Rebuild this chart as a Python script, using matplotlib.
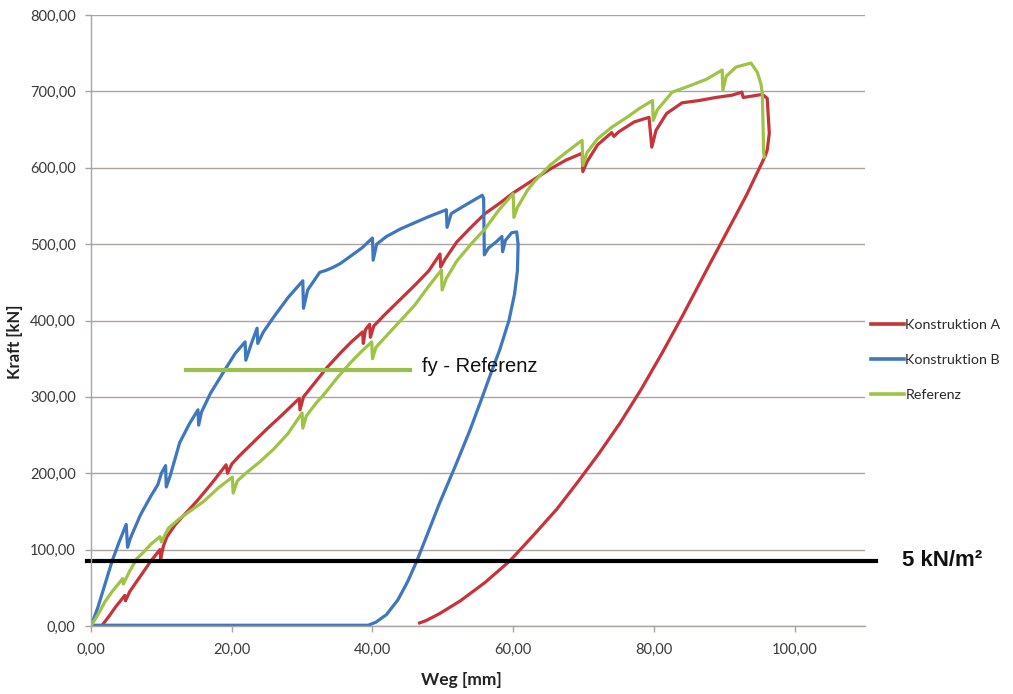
import matplotlib
matplotlib.use("Agg")
import matplotlib.pyplot as plt
from matplotlib.ticker import FuncFormatter, MultipleLocator

# Load-displacement curves (Weg in mm, Kraft in kN)
a_weg = [1.5, 2.5, 3.5, 4.8, 4.9, 5.5, 7.0, 8.5, 9.8, 9.9, 10.3, 10.8, 12.0, 13.5, 15.0,
         17.0, 19.2, 19.4, 20.0, 21.0, 23.0, 25.0, 27.0, 29.6, 29.7, 30.2, 31.5, 33.5,
         35.5, 37.0, 38.6, 38.7, 39.0, 39.6, 39.7, 40.2, 42.0, 44.0, 46.0, 48.0, 49.6,
         49.7, 50.3, 52.0, 54.0, 56.0, 58.0, 60.0, 61.0, 63.0, 65.2, 67.5, 69.8, 69.9,
         70.5, 72.0, 74.0, 74.3, 75.0, 77.2, 79.3, 79.7, 80.3, 81.8, 84.0, 86.4, 88.8,
         91.1, 92.5, 92.7, 95.4, 96.1, 96.4, 96.1, 95.8, 94.6, 93.2, 91.6, 89.8, 88.0,
         86.0, 84.0, 81.2, 78.2, 75.2, 72.2, 69.3, 66.2, 63.0, 59.5, 56.0, 52.5, 49.5,
         47.6, 46.7]
a_kraft = [0, 12, 25, 40, 33, 45, 65, 85, 100, 88, 105, 117, 133, 148, 163,
           185, 211, 200, 212, 222, 240, 258, 275, 298, 283, 300, 315, 338,
           358, 372, 385, 370, 388, 395, 378, 393, 410, 428, 446, 465, 487,
           470, 480, 503, 522, 540, 553, 567, 573, 585, 598, 610, 619, 595,
           608, 630, 646, 641, 647, 660, 666, 627, 649, 671, 685, 688, 692,
           695, 699, 692, 696, 691, 645, 623, 615, 592, 565, 537, 506, 475,
           440, 405, 358, 310, 266, 226, 190, 153, 120, 85, 57, 33, 16,
           7, 4]

b_weg = [0.0, 1.0, 2.0, 3.0, 4.0, 5.0, 5.2, 5.6, 7.0, 8.5, 9.5, 10.0, 10.6, 10.7, 11.2,
         12.6, 14.0, 15.2, 15.3, 15.7, 17.0, 19.0, 20.5, 21.9, 22.0, 22.8, 23.6, 23.7,
         24.5, 26.0, 28.0, 30.1, 30.2, 30.8, 32.5, 33.5, 34.5, 35.5, 37.0, 38.5, 40.0,
         40.1, 40.6, 42.0, 44.0, 46.0, 48.0, 50.5, 50.6, 51.2, 53.0, 55.6, 55.8, 55.9,
         56.5, 57.6, 58.4, 58.5, 58.9, 59.8, 60.5, 60.7, 60.6, 60.2, 59.4, 58.1, 56.8,
         55.5, 53.8, 51.8, 49.5, 47.8, 46.3, 45.0, 43.6, 42.0, 40.5, 39.4, 20.0, 0.3]
b_kraft = [0, 25, 55, 85, 110, 133, 103, 115, 145, 170, 185, 200, 210, 182, 195,
           240, 265, 283, 263, 280, 305, 335, 357, 372, 348, 370, 390, 370,
           385, 405, 430, 452, 416, 440, 463, 466, 470, 475, 485, 495, 508,
           479, 500, 510, 520, 528, 536, 545, 522, 540, 550, 564, 560, 486,
           495, 503, 510, 490, 505, 515, 516, 500, 465, 435, 400, 362, 330,
           297, 255, 210, 160, 120, 85, 58, 34, 15, 5, 1, 1, 1]

ref_weg = [0.0, 1.0, 2.0, 3.0, 4.5, 4.6, 5.5, 6.5, 7.5, 8.5, 9.8, 10.0, 11.0, 12.5,
           14.0, 16.0, 18.0, 20.1, 20.2, 20.8, 22.0, 24.0, 26.0, 28.0, 30.0, 30.1,
           30.6, 32.0, 33.0, 35.0, 36.8, 38.5, 39.9, 40.0, 40.5, 42.0, 44.0, 46.0,
           48.0, 49.8, 49.9, 50.5, 52.0, 54.0, 56.0, 58.0, 60.0, 60.1, 60.6, 62.0,
           63.0, 65.2, 67.5, 69.8, 69.9, 70.5, 72.0, 74.0, 76.0, 78.0, 79.8, 79.9,
           80.5, 82.6, 85.0, 87.5, 89.7, 89.8, 90.3, 91.7, 93.8, 94.7, 95.2, 95.4,
           95.5, 95.6, 95.7]
ref_kraft = [0, 15, 32, 45, 62, 55, 72, 88, 97, 107, 117, 110, 128, 140,
             150, 163, 180, 195, 174, 190, 200, 215, 232, 252, 279, 259,
             275, 292, 302, 325, 344, 360, 372, 350, 365, 380, 400, 420,
             445, 466, 440, 455, 478, 500, 520, 545, 566, 535, 548, 570,
             582, 603, 620, 636, 603, 620, 638, 653, 665, 678, 688, 662,
             676, 699, 707, 716, 728, 702, 720, 732, 737, 725, 710, 698,
             660, 619, 614]

series_names = ["Konstruktion A", "Konstruktion B", "Referenz"]
series_colors = ["#c6343a", "#3f77bf", "#9dc444"]

fy_ref = 335            # kN, horizontal marker "fy - Referenz"
fy_range = [13.5, 45.3]  # mm
load_5kn = 85           # kN, level of 5 kN/m²

fig = plt.figure(figsize=(10.13, 6.94), dpi=100)
ax = fig.add_axes([91 / 1013, 68 / 694, 774 / 1013, 611 / 694])

ax.set_xlim(0, 110)
ax.set_ylim(0, 800)
ax.xaxis.set_major_locator(MultipleLocator(20))
ax.yaxis.set_major_locator(MultipleLocator(100))
fmt = FuncFormatter(lambda v, p: f"{v:.2f}".replace(".", ","))
ax.xaxis.set_major_formatter(fmt)
ax.yaxis.set_major_formatter(fmt)
ax.set_xticks([0, 20, 40, 60, 80, 100])

grid_col = "#aba3a0"
ax.grid(axis="y", color=grid_col, linewidth=1.0)
ax.set_axisbelow(True)
for s in ["top", "right"]:
    ax.spines[s].set_visible(False)
for s in ["left", "bottom"]:
    ax.spines[s].set_color(grid_col)
    ax.spines[s].set_linewidth(1.0)
ax.tick_params(axis="both", colors=grid_col, length=4, width=1.0,
               labelcolor="#3a3a3a", labelsize=10.5)
ax.tick_params(axis="y", pad=7)
ax.tick_params(axis="x", pad=8)
for lab in ax.get_xticklabels() + ax.get_yticklabels():
    lab.set_family("Lato")

lw = 2.3
ax.plot(a_weg, a_kraft, color=series_colors[0], lw=lw, label=series_names[0],
        solid_joinstyle="round")
ax.plot(b_weg, b_kraft, color=series_colors[1], lw=lw, label=series_names[1],
        solid_joinstyle="round")
ax.plot(ref_weg, ref_kraft, color=series_colors[2], lw=lw, label=series_names[2],
        solid_joinstyle="round")

# fy reference marker
ax.plot(fy_range, [fy_ref, fy_ref], color="#98c04a", lw=3.0, clip_on=False)
ax.text(47.0, fy_ref + 5, "fy - Referenz", fontsize=14.5, family="Liberation Sans",
        va="center", ha="left", color="#111111")

# 5 kN/m² load level
ax.plot([-0.6, 111.6], [load_5kn, load_5kn], color="black", lw=3.0, clip_on=False)
ax.text(115.2, load_5kn + 1, "5 kN/m²", fontsize=16, family="Liberation Sans",
        fontweight="bold", va="center", ha="left", color="#111111")

ax.set_xlabel("Weg [mm]", fontsize=12.5, family="Lato", fontweight="bold",
              color="#222222")
ax.set_ylabel("Kraft [kN]", fontsize=12, family="Lato", fontweight="bold",
              color="#222222", va="center")
ax.yaxis.set_label_coords(-0.098, 0.465)
ax.xaxis.set_label_coords(0.478, -0.075)

leg = ax.legend(loc="upper left", bbox_to_anchor=(1.001, 0.512), frameon=False,
                handlelength=2.25, handletextpad=0.12, labelspacing=1.6,
                prop={"family": "Lato", "size": 10.3}, borderaxespad=0)
for t in leg.get_texts():
    t.set_color("#2a2a2a")
for h in leg.get_lines():
    h.set_linewidth(2.6)

fig.savefig("out.png", dpi=100)
